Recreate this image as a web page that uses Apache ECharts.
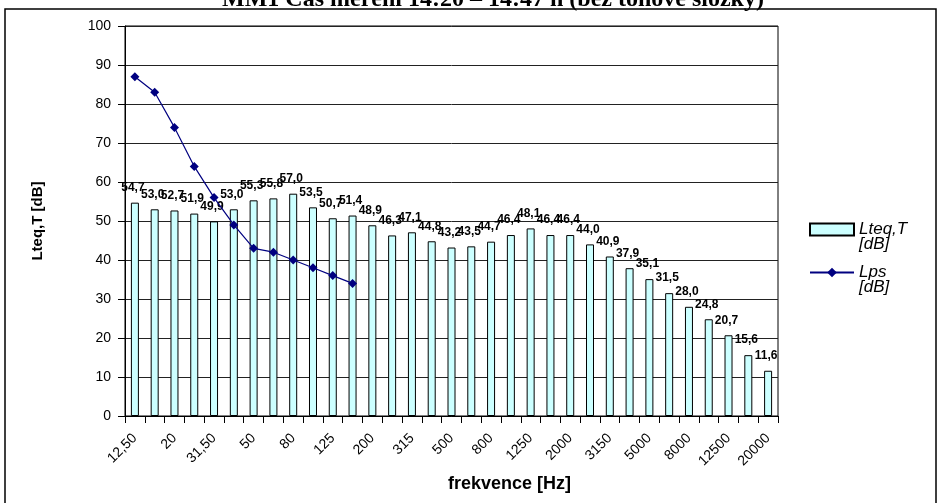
<!DOCTYPE html>
<html>
<head>
<meta charset="utf-8">
<script src="https://cdn.jsdelivr.net/npm/echarts@6/dist/echarts.min.js"></script>
<style>html,body{margin:0;padding:0;background:#fff}#c{width:938px;height:503px}</style>
</head>
<body>
<div id="c"></div>
<script>
const categories = ['12,50','16','20','25','31,50','40','50','63','80','100','125','160','200','250','315','400','500','630','800','1000','1250','1600','2000','2500','3150','4000','5000','6300','8000','10000','12500','16000','20000'];
const lteqValues = [54.7,53.0,52.7,51.9,49.9,53.0,55.3,55.8,57.0,53.5,50.7,51.4,48.9,46.3,47.1,44.8,43.2,43.5,44.7,46.4,48.1,46.4,46.4,44.0,40.9,37.9,35.1,31.5,28.0,24.8,20.7,15.6,11.6];
const lpsValues = [87,83,74,64,56,49,43,42,40,38,36,34,null,null,null,null,null,null,null,null,null,null,null,null,null,null,null,null,null,null,null,null,null];
const yTicks = [0,10,20,30,40,50,60,70,80,90,100];
const seriesNames = ['Lteq,T [dB]','Lps [dB]'];

const chart = echarts.init(document.getElementById('c'), null, {renderer:'canvas'});
const FONT = 'Arial, "Liberation Sans", sans-serif';
chart.setOption({
  animation:false,
  backgroundColor:'#fff',
  title:{
    text:'MM1 Čas měření 14:20 – 14:47 h (bez tónové složky)',
    left:488, textAlign:'center', top:-17,
    textStyle:{fontFamily:'"Liberation Serif", "Times New Roman", serif', fontWeight:'bold', fontSize:24, color:'#000'}
  },
  graphic:[{type:'rect', shape:{x:5,y:9,width:931,height:500}, style:{fill:'none', stroke:'#000', lineWidth:1.5}, silent:true}],
  legend:{
    orient:'vertical', left:809, top:206, padding:0, itemWidth:44, itemHeight:12, itemGap:-4,
    formatter: n => ' \n' + n.replace(' ', '\n'),
    textStyle:{fontFamily:FONT, fontStyle:'italic', fontSize:17, lineHeight:15, color:'#000'},
    data:[{name:seriesNames[0], icon:'rect'}, {name:seriesNames[1]}]
  },
  grid:{left:125, right:160, top:26, bottom:87, show:true, borderColor:'#000', borderWidth:1},
  xAxis:{
    type:'category', data:categories,
    name:'frekvence [Hz]', nameLocation:'middle', nameGap:55,
    nameTextStyle:{fontFamily:FONT, fontWeight:'bold', fontSize:18, color:'#000', padding:[0,0,0,116]},
    axisLine:{lineStyle:{color:'#000', width:1}},
    axisTick:{show:true, interval:0, length:7, lineStyle:{color:'#000'}},
    axisLabel:{interval:1, rotate:45, fontFamily:FONT, fontSize:14, color:'#000', margin:20}
  },
  yAxis:{
    type:'value', min:0, max:100, interval:10,
    name:'Lteq,T [dB]', nameLocation:'middle', nameGap:80,
    nameTextStyle:{fontFamily:FONT, fontWeight:'bold', fontSize:15, color:'#000'},
    axisLine:{show:true, lineStyle:{color:'#000'}},
    axisTick:{show:true, length:7, lineStyle:{color:'#000'}},
    axisLabel:{fontFamily:FONT, fontSize:14, color:'#000', margin:14,
      formatter: v => yTicks.includes(v) ? String(v) : ''},
    splitLine:{show:true, lineStyle:{color:'#222', width:1}}
  },
  series:[
    {
      name:seriesNames[0], type:'bar', data:lteqValues, barWidth:8,
      itemStyle:{color:'#CCFFFF', borderColor:'#000', borderWidth:1},
      label:{show:true, position:'top', distance:7, offset:[-2,-2],
        fontFamily:FONT, fontWeight:'bold', fontSize:12, color:'#000',
        formatter: p => p.value.toFixed(1).replace('.', ',')}
    },
    {
      name:seriesNames[1], type:'line', data:lpsValues,
      symbol:'diamond', symbolSize:9, connectNulls:false,
      lineStyle:{color:'#000080', width:1.2},
      itemStyle:{color:'#000080'}
    }
  ]
});
</script>
</body>
</html>
